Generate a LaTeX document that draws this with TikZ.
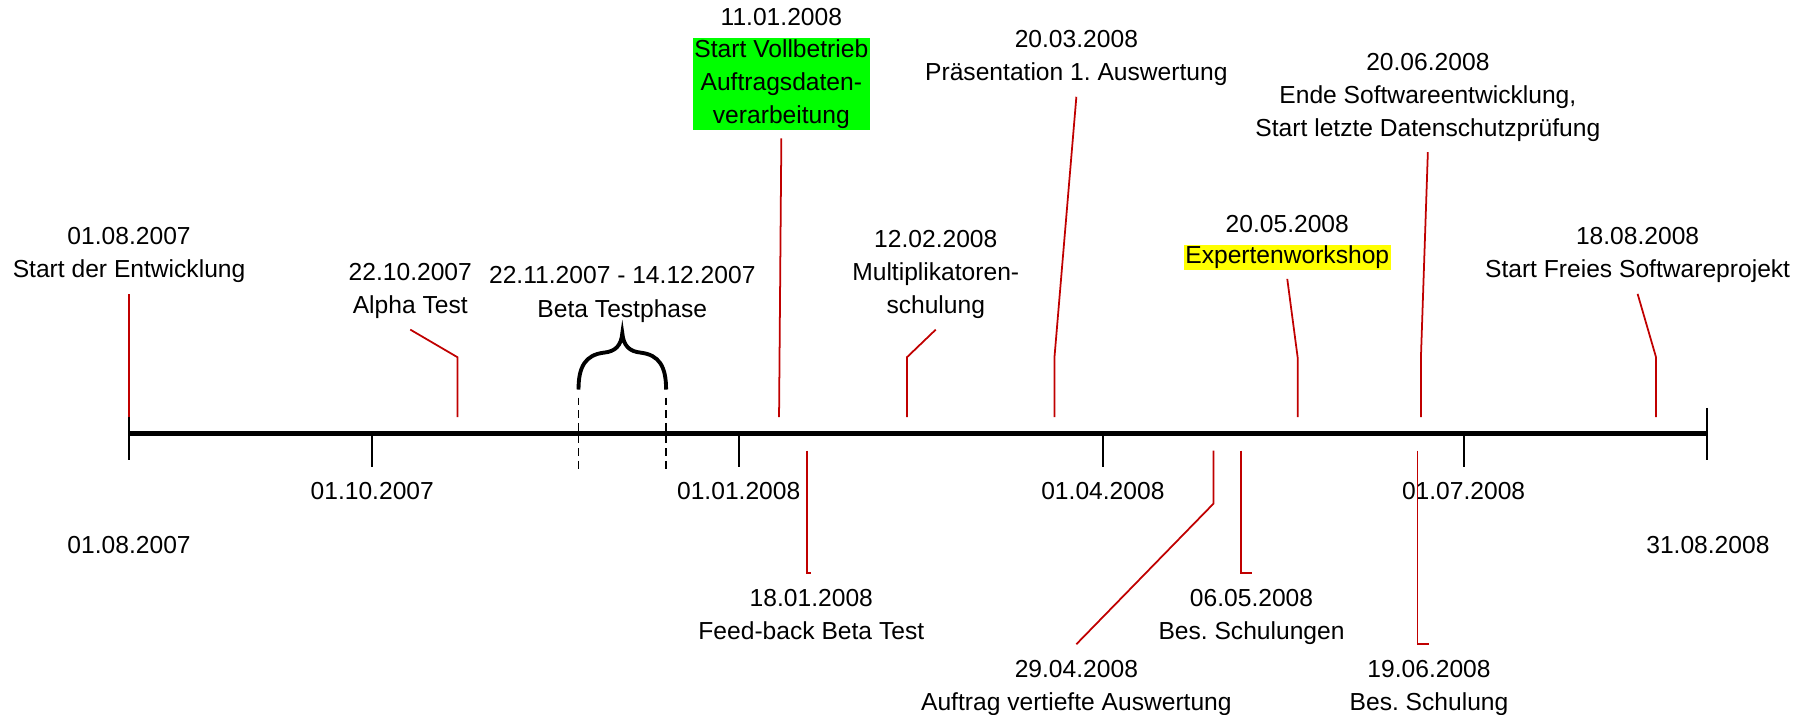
\documentclass[tikz,border=0pt]{standalone}
\usepackage{fontspec}
\setmainfont{Liberation Sans}
\usetikzlibrary{positioning}
\definecolor{markred}{RGB}{192,0,0}
\definecolor{hlgreen}{RGB}{0,255,0}
\definecolor{hlyellow}{RGB}{255,255,0}
\frenchspacing

\begin{document}
\begin{tikzpicture}[
    x=0.011524cm, y=-0.011524cm,
    font=\fontsize{7}{9.4}\selectfont,
    evt/.style={align=center, inner sep=1pt, outer sep=3.6pt},
    evtup/.style={evt, outer sep=2.1pt, anchor=south},
    evtdown/.style={evt, anchor=north},
    hl/.style={align=center, inner sep=0.4pt, outer sep=2.4pt, anchor=south},
    datelbl/.style={inner sep=1pt, outer sep=0pt},
    conn/.style={draw=markred, line width=0.5pt},
    axisline/.style={line width=1.4pt},
    axtick/.style={line width=0.6pt},
    phase/.style={line width=0.5pt, dash pattern=on 2.2pt off 1.4pt},
    brace/.style={line width=1.1pt}
]
    \useasboundingbox (0,0) rectangle (1568,620);

    % time axis
    \coordinate (start) at (112,376);
    \coordinate (stop) at (1481,376);
    \draw[axisline] (start) -- (stop);
    \draw[axtick] (112,362) -- (112,399);
    \draw[axtick] (1481,354) -- (1481,399);
    \draw[axtick] (323,376) -- (323,405);
    \draw[axtick] (641,376) -- (641,405);
    \draw[axtick] (957,376) -- (957,405);
    \draw[axtick] (1270,376) -- (1270,405);
    \node[datelbl] (q1) at (323,426) {01.10.2007};
    \node[datelbl] (q2) at (641,426) {01.01.2008};
    \node[datelbl] (q3) at (957,426) {01.04.2008};
    \node[datelbl] (q4) at (1270,426) {01.07.2008};
    \node[datelbl] (first) at (112,473) {01.08.2007};
    \node[datelbl] (last) at (1482,473) {31.08.2008};

    % events above the axis
    \node[evtup] (entw) at (112,255) {01.08.2007\\Start der Entwicklung};
    \node[evtup] (alpha) at (356,286) {22.10.2007\\Alpha Test};
    \node[evtup] (beta) at (540,289) {22.11.2007 - 14.12.2007\\Beta Testphase};
    \node[hl, fill=hlgreen] (vollbetrieb) at (678,120) {Start Vollbetrieb\\Auftragsdaten-\\verarbeitung};
    \node[datelbl] (vollbetriebdate) [above=0pt of vollbetrieb] {11.01.2008};
    \node[evtup] (multi) at (812,286) {12.02.2008\\Multiplikatoren-\\schulung};
    \node[evtup] (praes) at (934,84) {20.03.2008\\Präsentation 1. Auswertung};
    \node[hl, fill=hlyellow] (workshop) at (1117,242) {Expertenworkshop};
    \node[datelbl] (workshopdate) [above=0pt of workshop] {20.05.2008};
    \node[evtup] (swende) at (1239,132) {20.06.2008\\Ende Softwareentwicklung,\\Start letzte Datenschutzprüfung};
    \node[evtup] (freies) at (1421,255) {18.08.2008\\Start Freies Softwareprojekt};

    % events below the axis
    \node[evtdown] (feedback) at (704,497) {18.01.2008\\Feed-back Beta Test};
    \node[evtdown] (auftrag) at (934,559) {29.04.2008\\Auftrag vertiefte Auswertung};
    \node[evtdown] (besch1) at (1086,497) {06.05.2008\\Bes. Schulungen};
    \node[evtdown] (besch2) at (1240,559) {19.06.2008\\Bes. Schulung};

    \coordinate (ev-entw) at (112,362);
    \coordinate (ev-alpha) at (397,362);
    \coordinate (ev-vollb) at (676,362);
    \coordinate (ev-multi) at (787,362);
    \coordinate (ev-praes) at (915,362);
    \coordinate (ev-workshop) at (1126,362);
    \coordinate (ev-swende) at (1233,362);
    \coordinate (ev-freies) at (1437,362);
    \coordinate (ev-feedback) at (700,391);
    \coordinate (ev-auftrag) at (1053,391);
    \coordinate (ev-besch1) at (1077,391);
    \coordinate (ev-besch2) at (1230,391);

    \draw[conn] (ev-entw) -- (entw.south);
    \draw[conn] (ev-alpha) -- ++(0,-52) -- (alpha.south);
    \draw[conn] (ev-vollb) -- (vollbetrieb.south);
    \draw[conn] (ev-multi) -- ++(0,-52) -- (multi.south);
    \draw[conn] (ev-praes) -- ++(0,-52) -- (praes.south);
    \draw[conn] (ev-workshop) -- ++(0,-52) -- (workshop.south);
    \draw[conn] (ev-swende) -- ++(0,-52) -- (swende.south);
    \draw[conn] (ev-freies) -- ++(0,-52) -- (freies.south);
    \draw[conn] (ev-feedback) |- (feedback.north);
    \draw[conn] (ev-auftrag) -- ++(0,46) -- (auftrag.north);
    \draw[conn] (ev-besch1) |- (besch1.north);
    \draw[conn] (ev-besch2) |- (besch2.north);

    % beta phase
    \draw[brace] (502,338) .. controls (502,318) and (508,308) .. (524,306)
        .. controls (534,305) and (539,300) .. (540,289)
        .. controls (541,300) and (546,305) .. (556,306)
        .. controls (572,308) and (578,318) .. (578,338);
    \draw[phase] (502,345) -- (502,407);
    \draw[phase] (578,345) -- (578,407);
\end{tikzpicture}
\end{document}
